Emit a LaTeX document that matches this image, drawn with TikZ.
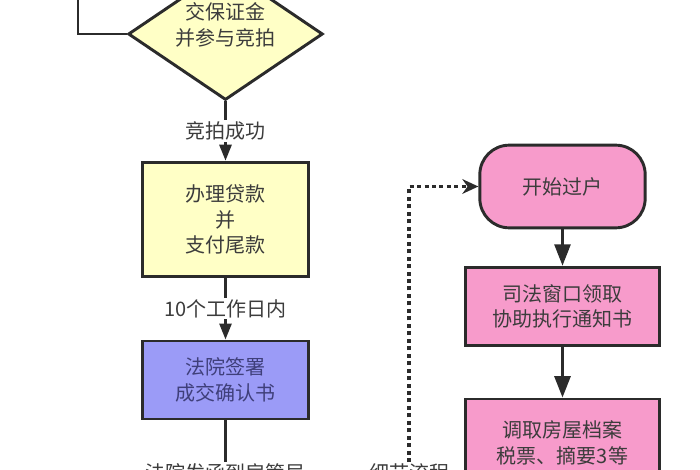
\documentclass[tikz,border=0pt]{standalone}
\usepackage{fontspec}
\newfontfamily\cjk{Noto Sans CJK SC}
\usepackage{tikz}
\usetikzlibrary{arrows.meta, positioning, shapes.geometric}
\definecolor{boxyellow}{HTML}{FFFFC6}
\definecolor{boxblue}{HTML}{9B9BF7}
\definecolor{boxpink}{HTML}{F79BCB}
\definecolor{edgegray}{HTML}{2B2B2B}
\definecolor{textgray}{HTML}{3C3C3C}
\definecolor{textblue}{HTML}{3F3F7A}

\begin{document}
\begin{tikzpicture}[x=0.75pt, y=-0.75pt,
		every node/.style={font=\cjk\fontsize{15}{19}\selectfont, text=textgray, align=center},
		box/.style={draw=edgegray, line width=2.2pt, rectangle, inner sep=0pt},
		decision/.style={draw=edgegray, line width=2.2pt, diamond, fill=boxyellow, inner sep=0pt,
			minimum width=146pt, minimum height=99pt},
		flow/.style={draw=edgegray, line width=2pt, -{Triangle[length=12pt, width=9pt]}},
		bigflow/.style={draw=edgegray, line width=2pt, -{Triangle[length=16pt, width=12pt]}},
		steplabel/.style={fill=white, inner sep=1pt}]
		\useasboundingbox (0,0) rectangle (700,470);
		\clip (0,0) rectangle (700,470);
		\fill[white] (0,0) rectangle (700,470);
		% Left column: auction
		\node[decision] (bid) at (225.5,34) {};
		\node (bidtext) at (225.5,25) {交保证金\\并参与竞拍};
		\coordinate (loop) at (78,-60);
		\draw[draw=edgegray, line width=2pt] (bid.west) -| (loop);
		\node[box, fill=boxyellow, minimum width=124pt, minimum height=86pt] (loan) at (225.5,219.5)
			{办理贷款\\并\\支付尾款};
		\node[box, fill=boxblue, minimum width=124pt, minimum height=58.5pt, text=textblue] (confirm) at (225.5,380)
			{法院签署\\成交确认书};
		\node[steplabel] (court) at (225.5,473) {法院发函到房管局};
		\draw[flow] (bid.south) -- node[steplabel] (win) {竞拍成功} (loan.north);
		\draw[flow] (loan.south) -- node[steplabel] (days) {10个工作日内} (confirm.north);
		\draw[draw=edgegray, line width=2pt] (confirm.south) -- (court.north);
		% Right column: transfer
		\node[box, fill=boxpink, rounded corners=22pt, minimum width=124pt, minimum height=62pt] (start) at (562.5,186.5)
			{开始过户};
		\node[box, fill=boxpink, minimum width=145pt, minimum height=59pt] (notice) at (562.5,306.5)
			{司法窗口领取\\协助执行通知书};
		\node[box, fill=boxpink, minimum width=145pt, minimum height=66pt] (archive) at (562.5,443)
			{调取房屋档案\\税票、摘要3等};
		\draw[bigflow] (start.south) -- (notice.north);
		\draw[bigflow] (notice.south) -- (archive.north);
		% Dotted detail link
		\node[steplabel] (detail) at (409,473) {细节流程};
		\draw[draw=edgegray, line width=2.6pt, dash pattern=on 3pt off 2.6pt,
			-{Stealth[length=12pt, width=11pt]}] (detail.north) |- (start.west);
	\end{tikzpicture}
\end{document}
